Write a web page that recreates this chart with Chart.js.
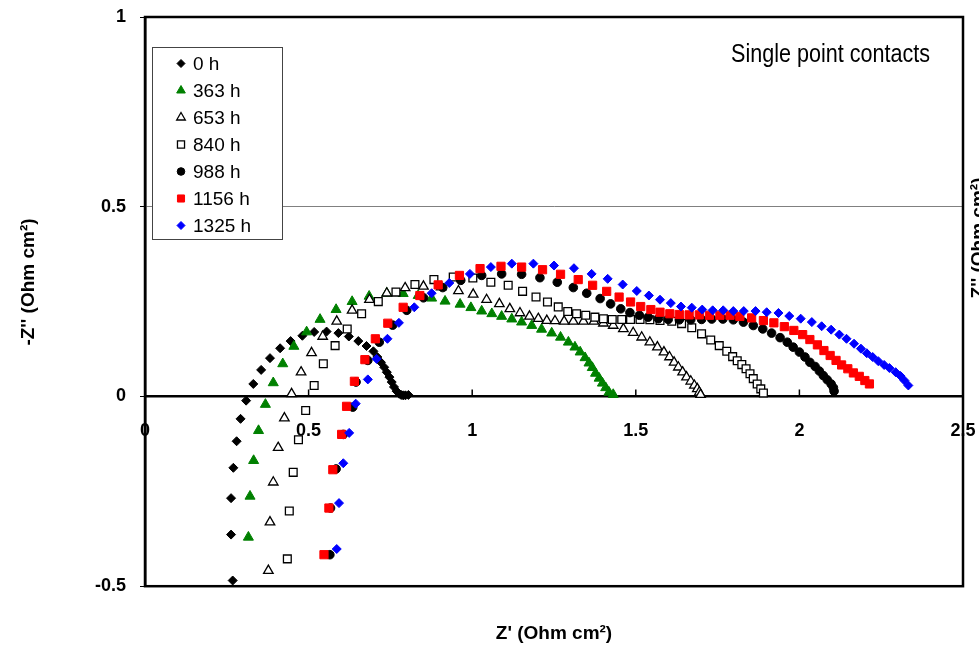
<!DOCTYPE html>
<html>
<head>
<meta charset="utf-8">
<title>Impedance spectra</title>
<script src="https://cdn.jsdelivr.net/npm/chart.js@4.4.0/dist/chart.umd.min.js"></script>
<style>
  html, body { margin: 0; padding: 0; background: #fff; }
</style>
</head>
<body>
<canvas id="nyquistChart" width="979" height="656"></canvas>
<script>
const seriesLabels = ['0 h', '363 h', '653 h', '840 h', '988 h', '1156 h', '1325 h'];

const h0Re = [0.268,0.263,0.263,0.270,0.280,0.292,0.309,0.331,0.355,0.382,0.413,0.445,0.481,0.517,0.555,0.591,0.623,0.652,0.677,0.698,0.710,0.721,0.731,0.739,0.747,0.754,0.761,0.769,0.777,0.783,0.789,0.796,0.805];
const h0Im = [-0.485,-0.364,-0.268,-0.188,-0.118,-0.059,-0.011,0.033,0.070,0.101,0.127,0.146,0.160,0.170,0.171,0.167,0.158,0.146,0.133,0.119,0.104,0.090,0.077,0.064,0.051,0.038,0.025,0.014,0.007,0.004,0.003,0.003,0.004];

const h363Re = [0.316,0.321,0.332,0.347,0.368,0.392,0.421,0.455,0.494,0.535,0.584,0.633,0.685,0.739,0.789,0.835,0.876,0.917,0.963,0.996,1.029,1.060,1.090,1.121,1.151,1.182,1.212,1.243,1.270,1.294,1.314,1.330,1.345,1.357,1.367,1.377,1.388,1.398,1.408,1.418,1.431];
const h363Im = [-0.371,-0.263,-0.169,-0.090,-0.021,0.036,0.086,0.132,0.170,0.203,0.229,0.250,0.264,0.272,0.271,0.266,0.259,0.251,0.243,0.234,0.225,0.218,0.211,0.204,0.196,0.187,0.177,0.167,0.156,0.143,0.130,0.117,0.102,0.088,0.076,0.061,0.048,0.035,0.023,0.011,0.005];

const h653Re = [0.377,0.382,0.392,0.407,0.426,0.448,0.477,0.509,0.543,0.586,0.633,0.686,0.739,0.795,0.851,0.905,0.958,1.003,1.044,1.083,1.115,1.146,1.175,1.202,1.228,1.253,1.281,1.309,1.340,1.372,1.401,1.431,1.462,1.492,1.518,1.543,1.566,1.586,1.603,1.617,1.630,1.643,1.655,1.668,1.679,1.688,1.694,1.698];
const h653Im = [-0.459,-0.331,-0.226,-0.135,-0.057,0.007,0.064,0.115,0.158,0.198,0.227,0.255,0.272,0.286,0.290,0.288,0.278,0.269,0.255,0.244,0.231,0.220,0.211,0.205,0.200,0.199,0.198,0.198,0.198,0.198,0.193,0.187,0.178,0.168,0.156,0.143,0.130,0.117,0.104,0.090,0.077,0.064,0.051,0.040,0.029,0.020,0.011,0.005];

const h840Re = [0.435,0.441,0.453,0.469,0.491,0.517,0.545,0.581,0.618,0.662,0.713,0.767,0.825,0.883,0.942,1.002,1.057,1.110,1.154,1.195,1.230,1.263,1.292,1.319,1.347,1.375,1.401,1.428,1.457,1.484,1.513,1.543,1.574,1.610,1.640,1.671,1.701,1.729,1.755,1.778,1.796,1.810,1.824,1.837,1.849,1.859,1.871,1.882,1.890];
const h840Im = [-0.428,-0.302,-0.200,-0.114,-0.037,0.029,0.086,0.134,0.178,0.218,0.250,0.275,0.295,0.308,0.315,0.312,0.301,0.293,0.277,0.262,0.249,0.236,0.224,0.218,0.214,0.209,0.205,0.203,0.203,0.203,0.203,0.202,0.200,0.198,0.192,0.181,0.165,0.149,0.134,0.119,0.105,0.094,0.084,0.073,0.060,0.047,0.033,0.020,0.009];

const h988Re = [0.565,0.567,0.584,0.606,0.635,0.645,0.681,0.716,0.757,0.800,0.851,0.910,0.965,1.029,1.090,1.151,1.207,1.260,1.309,1.350,1.391,1.423,1.454,1.482,1.511,1.538,1.569,1.599,1.633,1.668,1.701,1.732,1.766,1.798,1.829,1.859,1.888,1.915,1.941,1.963,1.981,2.000,2.017,2.032,2.048,2.061,2.073,2.085,2.097,2.104,2.106];
const h988Im = [-0.417,-0.294,-0.191,-0.100,-0.028,0.038,0.095,0.143,0.188,0.227,0.260,0.287,0.306,0.319,0.323,0.322,0.313,0.301,0.287,0.272,0.258,0.244,0.231,0.221,0.214,0.209,0.205,0.203,0.202,0.202,0.203,0.204,0.204,0.202,0.196,0.187,0.178,0.167,0.155,0.143,0.130,0.117,0.104,0.090,0.079,0.067,0.055,0.044,0.033,0.023,0.014];

const h1156Re = [0.547,0.562,0.574,0.601,0.616,0.640,0.672,0.704,0.742,0.789,0.840,0.896,0.961,1.024,1.088,1.151,1.215,1.270,1.324,1.368,1.411,1.449,1.484,1.515,1.546,1.574,1.604,1.633,1.663,1.694,1.725,1.757,1.788,1.818,1.854,1.890,1.922,1.954,1.983,2.010,2.032,2.055,2.075,2.094,2.112,2.129,2.148,2.165,2.183,2.200,2.214];
const h1156Im = [-0.417,-0.294,-0.193,-0.100,-0.026,0.040,0.097,0.152,0.193,0.235,0.266,0.294,0.319,0.337,0.343,0.341,0.334,0.322,0.308,0.293,0.277,0.262,0.249,0.237,0.229,0.222,0.218,0.216,0.215,0.215,0.214,0.214,0.214,0.211,0.207,0.200,0.194,0.184,0.174,0.163,0.150,0.136,0.121,0.108,0.095,0.083,0.073,0.062,0.053,0.042,0.033];

const h1325Re = [0.586,0.593,0.606,0.624,0.644,0.681,0.708,0.741,0.776,0.823,0.876,0.930,0.993,1.057,1.121,1.187,1.250,1.311,1.365,1.414,1.460,1.503,1.540,1.574,1.607,1.638,1.671,1.703,1.735,1.767,1.798,1.830,1.866,1.900,1.936,1.969,2.004,2.038,2.068,2.097,2.122,2.144,2.167,2.188,2.206,2.224,2.241,2.259,2.275,2.294,2.309,2.321,2.333];
const h1325Im = [-0.402,-0.281,-0.176,-0.096,-0.019,0.045,0.099,0.152,0.194,0.235,0.272,0.299,0.323,0.341,0.350,0.350,0.345,0.338,0.323,0.310,0.295,0.278,0.266,0.255,0.246,0.237,0.234,0.229,0.227,0.227,0.225,0.225,0.225,0.222,0.220,0.212,0.205,0.196,0.185,0.176,0.163,0.152,0.139,0.126,0.114,0.104,0.093,0.083,0.075,0.064,0.054,0.042,0.029];

const xTicks = [0, 0.5, 1, 1.5, 2, 2.5];
const yTicks = [-0.5, 0, 0.5, 1];

const reValues = [h0Re, h363Re, h653Re, h840Re, h988Re, h1156Re, h1325Re];
const imValues = [h0Im, h363Im, h653Im, h840Im, h988Im, h1156Im, h1325Im];

// marker look for each series (chart size / legend size)
const markers = [
  { style: 'rectRot',  fill: '#000000', stroke: '#000000', r: 4.5, lr: 4,   bw: 1 },
  { style: 'triangle', fill: '#008000', stroke: '#008000', r: 5.8, lr: 5,   bw: 1 },
  { style: 'triangle', fill: '#ffffff', stroke: '#000000', r: 5.5, lr: 5,   bw: 1.3 },
  { style: 'rect',     fill: '#ffffff', stroke: '#000000', r: 5.5, lr: 5,   bw: 1.3 },
  { style: 'circle',   fill: '#000000', stroke: '#000000', r: 4.3, lr: 3.8, bw: 1 },
  { style: 'rect',     fill: '#ff0000', stroke: '#ff0000', r: 5.8, lr: 5,   bw: 1 },
  { style: 'rectRot',  fill: '#0000ff', stroke: '#0000ff', r: 4.5, lr: 4,   bw: 1 }
];

const FONT = '"Liberation Sans", Arial, sans-serif';

function toPoints(xs, ys) {
  return xs.map(function(x, i) { return { x: x, y: ys[i] }; });
}

const datasets = seriesLabels.map(function(label, i) {
  const m = markers[i];
  return {
    label: label,
    data: toPoints(reValues[i], imValues[i]),
    pointStyle: m.style,
    pointRadius: m.r,
    pointBackgroundColor: m.fill,
    pointBorderColor: m.stroke,
    pointBorderWidth: m.bw,
    showLine: false,
    order: seriesLabels.length - i   // later series end up on top
  };
});

// small marker drawer for the hand made legend
function drawMarker(ctx, m, x, y) {
  const r = m.lr;
  ctx.save();
  ctx.fillStyle = m.fill;
  ctx.strokeStyle = m.stroke;
  ctx.lineWidth = m.bw;
  ctx.beginPath();
  if (m.style === 'rectRot') {
    ctx.moveTo(x, y - r); ctx.lineTo(x + r, y); ctx.lineTo(x, y + r); ctx.lineTo(x - r, y);
    ctx.closePath();
  } else if (m.style === 'triangle') {
    ctx.moveTo(x, y - r);
    ctx.lineTo(x + r * 0.866, y + r / 2);
    ctx.lineTo(x - r * 0.866, y + r / 2);
    ctx.closePath();
  } else if (m.style === 'rect') {
    const s = r * Math.SQRT1_2;
    ctx.rect(x - s, y - s, 2 * s, 2 * s);
  } else {
    ctx.arc(x, y, r, 0, Math.PI * 2);
  }
  ctx.fill();
  ctx.stroke();
  ctx.restore();
}

function rotatedTitle(ctx, text, x, y) {
  ctx.save();
  ctx.translate(x, y);
  ctx.rotate(-Math.PI / 2);
  ctx.font = 'bold 19px ' + FONT;
  ctx.textAlign = 'center';
  ctx.textBaseline = 'middle';
  ctx.fillStyle = '#000';
  ctx.fillText(text, 0, 0);
  ctx.restore();
}

const framePlugin = {
  id: 'frame',
  afterDraw: function(chart) {
    const ctx = chart.ctx;
    const a = chart.chartArea;
    const xs = chart.scales.x;
    const ys = chart.scales.y;
    const y0 = ys.getPixelForValue(0);

    ctx.save();
    // tick marks on the Z' axis, pointing up
    ctx.strokeStyle = '#000';
    ctx.lineWidth = 1.5;
    xTicks.forEach(function(v) {
      if (v === 0 || v === 2.5) return;
      const px = xs.getPixelForValue(v);
      ctx.beginPath();
      ctx.moveTo(px, y0);
      ctx.lineTo(px, y0 - 7);
      ctx.stroke();
    });

    // plot frame
    ctx.lineWidth = 2.5;
    ctx.strokeRect(a.left, a.top, a.right - a.left, a.bottom - a.top);

    // legend box
    const lx = 152, ly = 47, lw = 130, lh = 192;
    ctx.fillStyle = '#fff';
    ctx.fillRect(lx, ly, lw, lh);
    ctx.strokeStyle = '#444';
    ctx.lineWidth = 1;
    ctx.strokeRect(lx + 0.5, ly + 0.5, lw, lh);
    ctx.font = '19px ' + FONT;
    ctx.textBaseline = 'middle';
    ctx.textAlign = 'left';
    seriesLabels.forEach(function(label, i) {
      const rowY = 63.5 + i * 27;
      drawMarker(ctx, markers[i], 181, rowY);
      ctx.fillStyle = '#000';
      ctx.fillText(label, 193, rowY + 1);
    });

    // annotation, condensed like the original
    ctx.font = '25px ' + FONT;
    ctx.textBaseline = 'alphabetic';
    const txt = 'Single point contacts';
    const w = ctx.measureText(txt).width;
    ctx.save();
    ctx.translate(930, 62);
    ctx.scale(199 / w, 1);
    ctx.textAlign = 'right';
    ctx.fillStyle = '#000';
    ctx.fillText(txt, 0, 0);
    ctx.restore();

    // axis titles: left one, and the secondary one cut by the page edge
    rotatedTitle(ctx, "-Z'' (Ohm cm²)", 29, 282);
    rotatedTitle(ctx, "Z'' (Ohm cm²)", 979, 238);

    ctx.restore();
  }
};

const tickFont = { family: FONT, size: 18, weight: 'bold' };
const titleFont = { family: FONT, size: 19, weight: 'bold' };

function plainLabel(v) { return String(v); }

new Chart(document.getElementById('nyquistChart'), {
  type: 'scatter',
  data: { datasets: datasets },
  options: {
    responsive: false,
    animation: false,
    layout: { padding: { left: 0, right: 16, top: 17, bottom: 0 } },
    plugins: {
      legend: { display: false },
      tooltip: { enabled: false }
    },
    scales: {
      x: {
        type: 'linear',
        min: 0,
        max: 2.5,
        position: { y: 0 },
        afterBuildTicks: function(scale) {
          scale.ticks = xTicks.map(function(v) { return { value: v }; });
        },
        // edge labels may stick out past the frame, as in the original
        afterFit: function(scale) { scale.paddingLeft = 0; scale.paddingRight = 0; },
        ticks: { font: tickFont, color: '#000', padding: 24, maxRotation: 0, callback: plainLabel },
        grid: { display: false, drawTicks: false },
        border: { display: true, color: '#000', width: 2.5 }
      },
      xTitle: {
        type: 'linear',
        min: 0,
        max: 2.5,
        position: 'bottom',
        ticks: { display: false },
        grid: { display: false, drawTicks: false },
        border: { display: false },
        title: {
          display: true,
          text: "Z' (Ohm cm²)",
          font: titleFont,
          color: '#000',
          padding: { top: 36, bottom: 11 }
        }
      },
      y: {
        type: 'linear',
        min: -0.5,
        max: 1,
        afterBuildTicks: function(scale) {
          scale.ticks = yTicks.map(function(v) { return { value: v }; });
        },
        afterFit: function(scale) {
          scale.width = 145;
          scale.paddingTop = 0;
          scale.paddingBottom = 0;
        },
        ticks: { font: tickFont, color: '#000', padding: 14, callback: plainLabel },
        grid: { color: '#808080', lineWidth: 1, tickLength: 5, tickColor: '#000' },
        border: { color: '#000', width: 2.5 },
        title: { display: false }
      }
    }
  },
  plugins: [framePlugin]
});
</script>
</body>
</html>
